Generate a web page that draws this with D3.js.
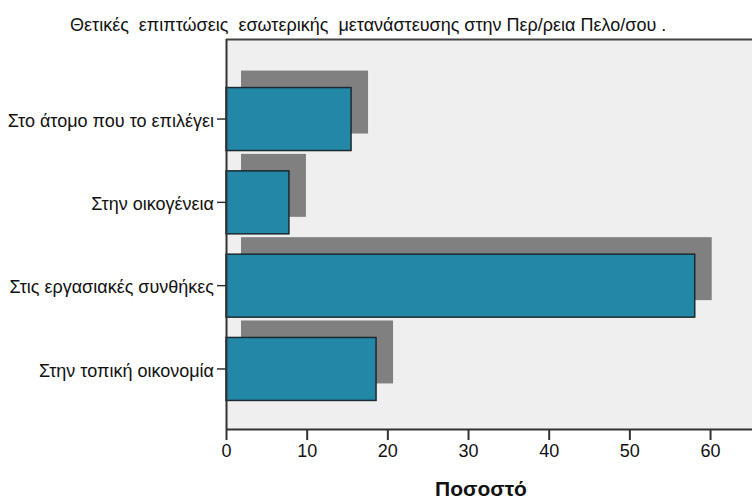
<!DOCTYPE html>
<html>
<head>
<meta charset="utf-8">
<script src="https://cdn.jsdelivr.net/npm/d3@7"></script>
<style>
  body { margin: 0; background: #fff; }
  svg { display: block; font-family: "Liberation Sans", Arial, sans-serif; }
</style>
</head>
<body>
<svg id="chart" width="752" height="500"></svg>
<script>
const categories = [
  "Στο άτομο που το επιλέγει",
  "Στην οικογένεια",
  "Στις εργασιακές συνθήκες",
  "Στην τοπική οικονομία"
];
const percentValues = [15.5, 7.8, 58.1, 18.6];
const xTicks = [0, 10, 20, 30, 40, 50, 60];
const titleText = "Θετικές  επιπτώσεις  εσωτερικής  μετανάστευσης στην Περ/ρεια Πελο/σου .";
const xAxisTitle = "Ποσοστό";

const svg = d3.select("#chart");
const plot = { left: 226, top: 39, right: 752, bottom: 429 };
const FONT = "Liberation Sans, Arial, sans-serif";

const x = d3.scaleLinear().domain([0, 65.2]).range([plot.left, plot.right]);
const y = d3.scaleBand().domain(categories).range([77.4, 410.6])
  .paddingInner(0.244).paddingOuter(0.122);

// background
svg.append("rect")
  .attr("x", plot.left).attr("y", plot.top)
  .attr("width", plot.right - plot.left).attr("height", plot.bottom - plot.top)
  .attr("fill", "#efefef");

// top border
svg.append("line")
  .attr("x1", plot.left).attr("x2", plot.right)
  .attr("y1", plot.top + 0.5).attr("y2", plot.top + 0.5)
  .attr("stroke", "#444").attr("stroke-width", 2);

const data = categories.map((c, i) => ({ c, v: percentValues[i] }));

// shadows
const dx = 15, dy = -17;
svg.append("g").selectAll("rect").data(data).join("rect")
  .attr("x", d => x(0) + dx)
  .attr("y", d => y(d.c) + dy)
  .attr("width", d => x(d.v) - x(0) + 2)
  .attr("height", y.bandwidth())
  .attr("fill", "#808080");

// bars
svg.append("g").selectAll("rect").data(data).join("rect")
  .attr("x", d => x(0))
  .attr("y", d => y(d.c))
  .attr("width", d => x(d.v) - x(0))
  .attr("height", y.bandwidth())
  .attr("fill", "#2388a8")
  .attr("stroke", "#1a2a30")
  .attr("stroke-width", 1.5);

// x axis
const xAxis = svg.append("g")
  .attr("transform", `translate(0,${plot.bottom})`)
  .call(d3.axisBottom(x).tickValues(xTicks).tickSize(11).tickPadding(4).tickSizeOuter(0));
xAxis.select(".domain").attr("stroke", "#333").attr("stroke-width", 2);
xAxis.selectAll(".tick line").attr("stroke", "#333").attr("stroke-width", 2);
xAxis.selectAll("text").attr("font-size", 18).attr("fill", "#111")
  .attr("font-family", FONT);

// y axis
const yAxis = svg.append("g")
  .attr("transform", `translate(${plot.left},0)`)
  .call(d3.axisLeft(y).tickSize(9).tickPadding(3).tickSizeOuter(0));
yAxis.select(".domain").attr("d", `M0.5,${plot.top}V${plot.bottom}`)
  .attr("stroke", "#333").attr("stroke-width", 2);
yAxis.selectAll(".tick line").attr("stroke", "#333").attr("stroke-width", 1.5);
yAxis.selectAll("text").attr("font-size", 18).attr("fill", "#111")
  .attr("font-family", FONT).attr("dy", "0.42em");

// title
svg.append("text")
  .attr("x", 70).attr("y", 31)
  .attr("font-size", 18).attr("fill", "#111")
  .style("white-space", "pre")
  .text(titleText);

// x axis title
svg.append("text")
  .attr("x", 481).attr("y", 496)
  .attr("text-anchor", "middle")
  .attr("font-size", 21).attr("font-weight", "bold").attr("fill", "#111")
  .text(xAxisTitle);
</script>
</body>
</html>
